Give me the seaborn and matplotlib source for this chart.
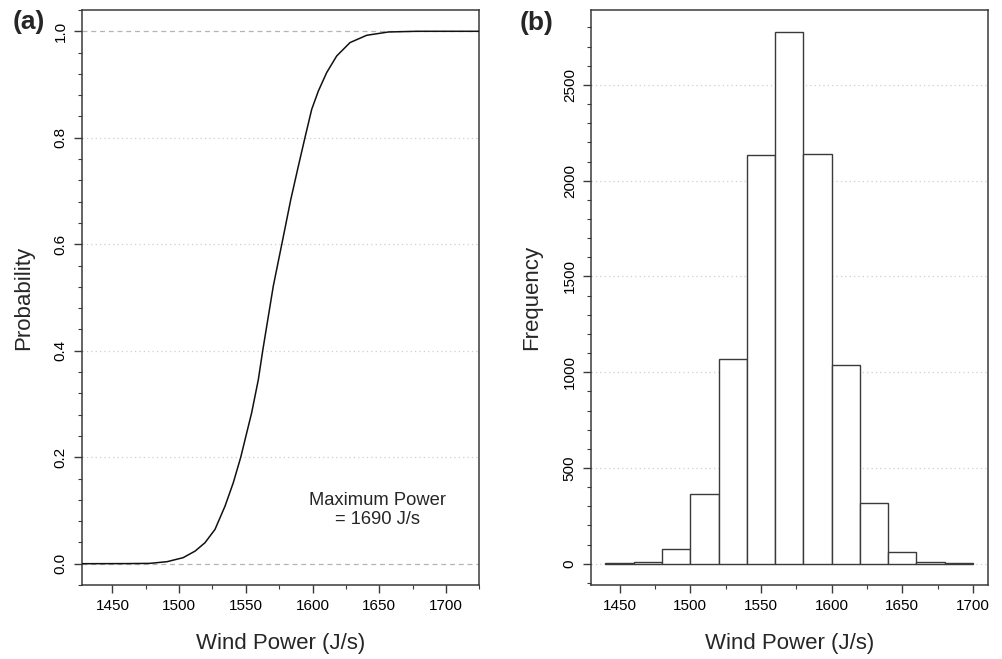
import numpy as np
import pandas as pd
import matplotlib
matplotlib.use("Agg")
import matplotlib.pyplot as plt
from matplotlib.ticker import MultipleLocator
import seaborn as sns

# ---------------- data ----------------
# (a) empirical cumulative distribution of wind power
cdf_power = [1427, 1460, 1478, 1491, 1503, 1512, 1519.4, 1526.9, 1534.4,
             1540.6, 1546.2, 1550.7, 1554.4, 1559.4, 1562.7, 1570.6,
             1577.2, 1583.7, 1589.4, 1594.4, 1599.4, 1604.4, 1610.6,
             1618.1, 1628.1, 1640.6, 1656.8, 1678, 1725]
cdf_prob = [0.0, 0.0002, 0.0006, 0.0038, 0.0113, 0.0237, 0.0394, 0.0644,
            0.108, 0.152, 0.200, 0.246, 0.2837, 0.346, 0.4007, 0.5215,
            0.603, 0.684, 0.747, 0.801, 0.8535, 0.888, 0.9224, 0.9536,
            0.9788, 0.9925, 0.9987, 1.0, 1.0]

# (b) histogram of wind power (bin edges and counts)
bin_edges = [1440, 1460, 1480, 1500, 1520, 1540, 1560, 1580, 1600, 1620,
             1640, 1660, 1680, 1700]
bin_counts = [2, 9, 78, 366, 1069, 2132, 2775, 2139, 1040, 316, 62, 9, 3]

max_power_text = "Maximum Power\n= 1690 J/s"
x_label = "Wind Power (J/s)"
xticks = [1450, 1500, 1550, 1600, 1650, 1700]
yticks_a = [0.0, 0.2, 0.4, 0.6, 0.8, 1.0]
yticks_b = [0, 500, 1000, 1500, 2000, 2500]

# ---------------- style ----------------
sns.set_style("white")
plt.rcParams["font.family"] = ["Liberation Sans", "DejaVu Sans"]
axis_col = "#3a3a3a"
plt.rcParams["axes.edgecolor"] = axis_col
plt.rcParams["xtick.color"] = axis_col
plt.rcParams["ytick.color"] = axis_col
plt.rcParams["xtick.labelcolor"] = "black"
plt.rcParams["ytick.labelcolor"] = "black"

W, H = 1003, 659
fig = plt.figure(figsize=(W / 100, H / 100), dpi=100)

def px_axes(l, t, r, b):
    return fig.add_axes([l / W, 1 - b / H, (r - l) / W, (b - t) / H])

ax1 = px_axes(81.7, 10, 479.3, 585)
ax2 = px_axes(590.7, 10, 987.7, 585)

grid_kw = dict(color="#cfcfcf", linestyle=(0, (1, 2.5)), linewidth=0.9)

def style_axes(ax):
    for s in ax.spines.values():
        s.set_visible(True)
        s.set_linewidth(1.1)
        s.set_color(axis_col)
    ax.tick_params(axis="both", which="major", length=6, width=1.0,
                   labelsize=11, direction="out", bottom=True, left=True)
    ax.tick_params(axis="both", which="minor", length=3, width=0.8,
                   direction="out", bottom=True, left=True)
    ax.tick_params(axis="y", which="major", labelrotation=90, pad=4)
    ax.tick_params(axis="x", which="major", pad=4)
    for lab in ax.get_yticklabels():
        lab.set_va("center")
    ax.set_axisbelow(True)

# ---------------- (a) ECDF ----------------
ax1.set_xlim(1427, 1725)
ax1.set_ylim(-0.04, 1.04)
ax1.set_xticks(xticks)
ax1.set_yticks(yticks_a)
ax1.set_yticklabels([f"{v:.1f}" for v in yticks_a])
ax1.xaxis.set_minor_locator(MultipleLocator(25))
ax1.yaxis.set_minor_locator(MultipleLocator(0.04))
ax1.yaxis.grid(True, **grid_kw)
gl = ax1.get_ygridlines()
gl[0].set_visible(False)
gl[-1].set_visible(False)
ax1.axhline(0, color="#b5b5b5", linestyle=(0, (4, 3)), linewidth=0.9, zorder=1)
ax1.axhline(1, color="#b5b5b5", linestyle=(0, (4, 3)), linewidth=0.9, zorder=1)

df_cdf = pd.DataFrame({"power": cdf_power, "prob": cdf_prob})
sns.lineplot(data=df_cdf, x="power", y="prob", ax=ax1, color="#111111",
             linewidth=1.1, sort=False, estimator=None, zorder=3)
ax1.set_xlabel(x_label, fontsize=16)
ax1.set_ylabel("Probability", fontsize=16)
ax1.xaxis.set_label_coords(0.5, -0.101)
ax1.xaxis.label.set_va("center")
ax1.yaxis.set_label_coords(-0.147, 0.5)
ax1.yaxis.label.set_va("center")
ax1.text(1649, 0.10, max_power_text, ha="center", va="center",
         fontsize=13.2, linespacing=1.15)
style_axes(ax1)

# ---------------- (b) histogram ----------------
centers = [(a + b) / 2 for a, b in zip(bin_edges[:-1], bin_edges[1:])]
df_hist = pd.DataFrame({"power": centers, "count": bin_counts})
ax2.yaxis.grid(True, **grid_kw)
sns.histplot(data=df_hist, x="power", weights="count", bins=bin_edges,
             ax=ax2, color="white", edgecolor=axis_col, linewidth=1.0,
             alpha=1.0, zorder=3)
ax2.set_xlim(1429.6, 1710.4)
ax2.set_ylim(-111, 2891)
ax2.set_xticks(xticks)
ax2.set_yticks(yticks_b)
ax2.set_yticklabels([str(v) for v in yticks_b])
ax2.xaxis.set_minor_locator(MultipleLocator(25))
ax2.yaxis.set_minor_locator(MultipleLocator(100))
ax2.set_xlabel(x_label, fontsize=16)
ax2.set_ylabel("Frequency", fontsize=16)
ax2.xaxis.set_label_coords(0.5, -0.101)
ax2.xaxis.label.set_va("center")
ax2.yaxis.set_label_coords(-0.1486, 0.5)
ax2.yaxis.label.set_va("center")
style_axes(ax2)

# panel labels
fig.text(29 / W, 1 - 22 / H, "(a)", ha="center", va="center",
         fontsize=19, fontweight="bold")
fig.text(536.7 / W, 1 - 22.7 / H, "(b)", ha="center", va="center",
         fontsize=19, fontweight="bold")

fig.savefig("out.png", dpi=100, facecolor="white")
